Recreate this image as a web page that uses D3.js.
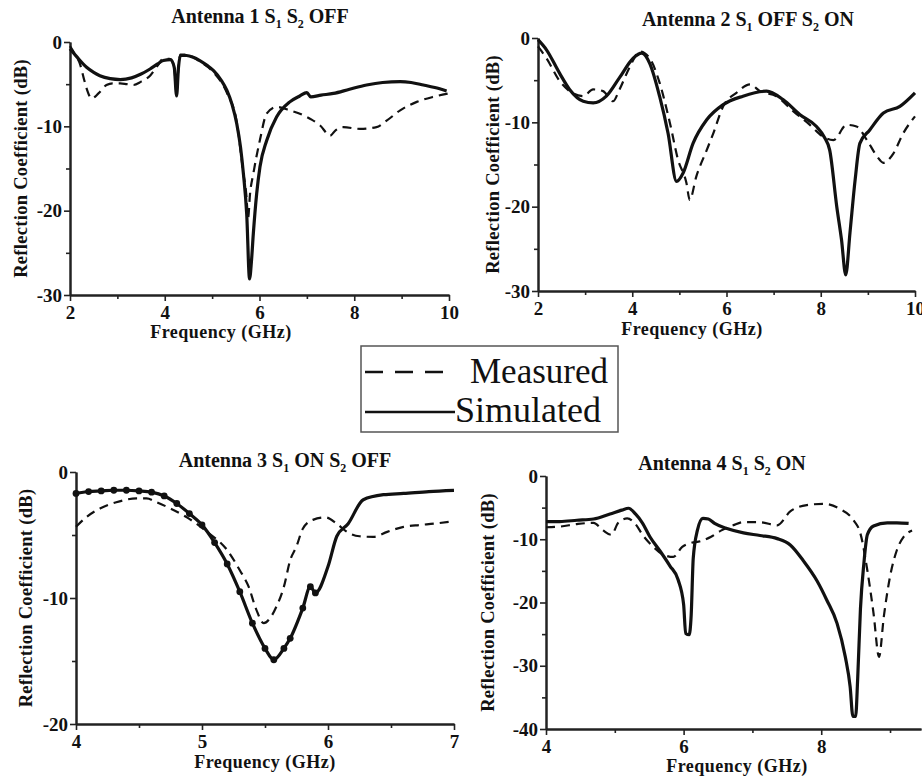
<!DOCTYPE html>
<html><head><meta charset="utf-8">
<script src="https://cdn.jsdelivr.net/npm/d3@7"></script>
<style>
body{margin:0;background:#fff}
svg{display:block}
text{font-family:"Liberation Serif","Times New Roman",serif;}
</style>
</head><body>
<svg id="c" width="922" height="780"></svg>
<script>
// ---------- DATA ----------
const ant1Title = [["Antenna 1 S",0],["1",1],[" S",0],["2",1],[" OFF",0]];
const ant2Title = [["Antenna 2 S",0],["1",1],[" OFF S",0],["2",1],[" ON",0]];
const ant3Title = [["Antenna 3 S",0],["1",1],[" ON S",0],["2",1],[" OFF",0]];
const ant4Title = [["Antenna 4 S",0],["1",1],[" S",0],["2",1],[" ON",0]];

const ant1XTicks = [2,4,6,8,10], ant1XMinor = [3,5,7,9];
const ant1YTicks = [0,-10,-20,-30], ant1YMinor = [-5,-15,-25];
const ant2XTicks = [2,4,6,8,10], ant2XMinor = [3,5,7,9];
const ant2YTicks = [0,-10,-20,-30], ant2YMinor = [-5,-15,-25];
const ant3XTicks = [4,5,6,7], ant3XMinor = [4.5,5.5,6.5];
const ant3YTicks = [0,-10,-20], ant3YMinor = [-5,-15];
const ant4XTicks = [4,6,8], ant4XMinor = [5,7,9];
const ant4YTicks = [0,-10,-20,-30,-40], ant4YMinor = [-5,-15,-25,-35];

const ant1Sim = [[2.0,-0.8],[2.15,-1.8],[2.35,-3.0],[2.5,-3.6],[2.63,-4.0],[2.85,-4.35],[3.06,-4.45],[3.3,-4.25],[3.5,-3.8],[3.69,-3.2],[3.85,-2.6],[3.97,-2.2],[4.12,-2.1],[4.2,-3.0],[4.25,-6.4],[4.29,-3.0],[4.33,-1.6],[4.46,-1.6],[4.6,-1.8],[4.74,-2.2],[4.9,-2.8],[5.03,-3.4],[5.2,-4.6],[5.31,-5.7],[5.42,-7.4],[5.52,-9.7],[5.6,-12.5],[5.66,-15.6],[5.73,-20.4],[5.79,-28.1],[5.83,-26],[5.87,-22.7],[5.94,-18],[6.01,-14.8],[6.15,-11.7],[6.36,-8.9],[6.64,-7.1],[6.85,-6.4],[7.0,-6.0],[7.08,-6.5],[7.3,-6.3],[7.56,-6.1],[7.9,-5.6],[8.26,-5.1],[8.6,-4.8],[8.97,-4.7],[9.2,-4.8],[9.46,-5.1],[9.7,-5.4],[9.95,-5.8]];
const ant1Meas = [[2.0,-0.5],[2.12,-1.6],[2.21,-2.6],[2.3,-4.5],[2.35,-5.5],[2.46,-6.7],[2.6,-6.1],[2.77,-5.1],[2.9,-4.9],[3.06,-4.9],[3.2,-5.0],[3.34,-5.1],[3.5,-4.7],[3.69,-4.0],[3.85,-2.8],[3.97,-2.0],[4.1,-2.0],[4.2,-3.0],[4.25,-6.2],[4.29,-3.0],[4.33,-1.5],[4.46,-1.5],[4.6,-1.8],[4.74,-2.3],[5.03,-3.6],[5.31,-6.0],[5.52,-9.5],[5.66,-15.6],[5.72,-18],[5.76,-20.8],[5.8,-18],[5.87,-15.6],[6.01,-11.6],[6.15,-8.5],[6.36,-7.7],[6.64,-8.1],[6.93,-8.7],[7.1,-9.2],[7.28,-9.9],[7.49,-11.1],[7.6,-10.5],[7.77,-10.1],[8.12,-10.3],[8.47,-10.1],[8.69,-9.3],[8.97,-8.1],[9.32,-7.1],[9.67,-6.5],[9.99,-6.1]];

const ant2Sim = [[2.0,-0.2],[2.18,-1.4],[2.46,-4.2],[2.67,-6.1],[2.96,-7.5],[3.17,-7.7],[3.45,-6.9],[3.73,-4.7],[4.02,-2.4],[4.2,-1.8],[4.37,-3.0],[4.58,-6.9],[4.76,-11.3],[4.94,-17.0],[5.08,-16.0],[5.29,-12.5],[5.58,-9.7],[5.93,-7.9],[6.35,-6.9],[6.85,-6.3],[7.2,-7.3],[7.56,-9.1],[7.91,-10.5],[8.08,-11.8],[8.19,-13.3],[8.34,-20.0],[8.44,-23.9],[8.53,-28.1],[8.62,-23.1],[8.73,-16.8],[8.83,-12.5],[9.04,-10.9],[9.33,-8.9],[9.68,-8.1],[10.0,-6.5]];
const ant2Meas = [[2.0,-1.0],[2.18,-2.4],[2.46,-5.1],[2.67,-6.3],[2.96,-6.9],[3.17,-6.1],[3.38,-6.3],[3.59,-7.5],[3.73,-6.1],[3.95,-3.4],[4.16,-1.6],[4.37,-2.4],[4.58,-5.3],[4.8,-10.1],[4.97,-14.4],[5.15,-17.2],[5.22,-19.2],[5.36,-16.4],[5.58,-13.3],[5.72,-11.3],[5.93,-8.1],[6.21,-6.5],[6.5,-5.5],[6.71,-6.3],[7.06,-6.9],[7.42,-8.7],[7.77,-10.3],[8.05,-11.7],[8.27,-12.1],[8.55,-10.3],[8.76,-10.5],[8.98,-12.1],[9.19,-14.0],[9.33,-14.8],[9.54,-13.7],[9.75,-11.3],[10.0,-9.3]];

const ant3Sim = [[4.0,-1.7],[4.1,-1.55],[4.2,-1.5],[4.3,-1.45],[4.4,-1.45],[4.5,-1.5],[4.6,-1.6],[4.7,-1.9],[4.8,-2.5],[4.9,-3.3],[5.0,-4.2],[5.1,-5.6],[5.2,-7.3],[5.3,-9.5],[5.4,-12.0],[5.5,-14.0],[5.57,-14.9],[5.65,-14.0],[5.7,-13.2],[5.8,-10.8],[5.86,-9.1],[5.9,-9.6],[6.0,-7.5],[6.07,-5.1],[6.16,-4.1],[6.28,-2.2],[6.44,-1.8],[6.6,-1.7],[6.8,-1.55],[7.0,-1.45]];
const ant3Meas = [[4.0,-4.35],[4.08,-3.6],[4.19,-2.9],[4.32,-2.4],[4.48,-2.1],[4.56,-2.1],[4.64,-2.4],[4.75,-2.9],[4.88,-3.6],[5.04,-4.75],[5.2,-6.2],[5.3,-7.8],[5.37,-9.1],[5.43,-10.9],[5.49,-12.0],[5.54,-11.6],[5.59,-10.7],[5.65,-9.1],[5.7,-7.0],[5.75,-5.9],[5.8,-4.5],[5.88,-3.8],[5.98,-3.6],[6.07,-4.1],[6.15,-4.75],[6.25,-5.1],[6.36,-5.15],[6.47,-4.75],[6.6,-4.35],[6.73,-4.2],[6.84,-4.1],[7.0,-3.9]];

const ant4Sim = [[4.0,-7.2],[4.2,-7.2],[4.45,-7.0],[4.69,-6.8],[4.93,-6.0],[5.1,-5.4],[5.2,-5.1],[5.3,-6.0],[5.4,-7.4],[5.51,-9.6],[5.66,-11.9],[5.8,-14.2],[5.92,-16.4],[6.0,-20.3],[6.03,-24.9],[6.08,-25.1],[6.11,-22],[6.14,-13],[6.2,-8.6],[6.28,-6.7],[6.36,-6.8],[6.45,-7.5],[6.63,-8.3],[6.87,-9.0],[7.11,-9.4],[7.36,-9.9],[7.55,-10.9],[7.74,-13.4],[7.94,-16.6],[8.08,-19.6],[8.23,-23.3],[8.35,-28.6],[8.42,-33.3],[8.46,-38],[8.5,-38],[8.53,-32],[8.57,-21],[8.62,-13.8],[8.67,-9.3],[8.76,-7.9],[8.96,-7.4],[9.1,-7.4],[9.27,-7.5]];
const ant4Meas = [[4.0,-8.1],[4.2,-8.0],[4.45,-7.6],[4.69,-7.4],[4.83,-8.6],[4.95,-9.3],[5.05,-7.4],[5.18,-6.7],[5.3,-7.6],[5.41,-9.4],[5.56,-11.2],[5.7,-12.4],[5.85,-12.8],[5.98,-11.2],[6.1,-10.6],[6.25,-10.3],[6.4,-9.6],[6.55,-8.6],[6.72,-7.8],[6.87,-7.3],[7.11,-7.3],[7.36,-7.8],[7.55,-5.6],[7.79,-4.6],[8.03,-4.4],[8.27,-5.2],[8.47,-7.0],[8.57,-9.1],[8.67,-14.9],[8.76,-21.7],[8.84,-28.6],[8.91,-22.2],[9.0,-15.9],[9.1,-11.7],[9.2,-9.6],[9.32,-8.6]];

const legendLabels = ["Measured","Simulated"];
const xLabel = "Frequency (GHz)";
const yLabel = "Reflection Coefficient (dB)";

// ---------- LAYOUT ----------
const panels = [
  {title:ant1Title, sim:ant1Sim, meas:ant1Meas, xd:[2,10], yd:[-30,0], xt:ant1XTicks, xm:ant1XMinor, yt:ant1YTicks, ym:ant1YMinor,
   L:70, R:449, T:42, B:295, titleX:260, titleY:23, xlX:221, xlY:338, ylX:27, dots:false},
  {title:ant2Title, sim:ant2Sim, meas:ant2Meas, xd:[2,10], yd:[-30,0], xt:ant2XTicks, xm:ant2XMinor, yt:ant2YTicks, ym:ant2YMinor,
   L:538, R:915, T:38, B:291, titleX:748, titleY:26, xlX:692, xlY:335, ylX:499, dots:false},
  {title:ant3Title, sim:ant3Sim, meas:ant3Meas, xd:[4,7], yd:[-20,0], xt:ant3XTicks, xm:ant3XMinor, yt:ant3YTicks, ym:ant3YMinor,
   L:76, R:454, T:472, B:724, titleX:285, titleY:467, xlX:265, xlY:768, ylX:32, dots:true},
  {title:ant4Title, sim:ant4Sim, meas:ant4Meas, xd:[4,9.45], yd:[-40,0], xt:ant4XTicks, xm:ant4XMinor, yt:ant4YTicks, ym:ant4YMinor,
   L:546, R:921, T:476, B:729, titleX:722, titleY:470, xlX:737, xlY:772, ylX:494, dots:false}
];

const svg = d3.select("#c");
const INK = "#111";

function styleAxis(g){
  g.select(".domain").attr("stroke", "#222").attr("stroke-width", 2);
  g.selectAll(".tick line").attr("stroke", "#222").attr("stroke-width", 1.6);
  g.selectAll("text").attr("font-family", '"Liberation Serif","Times New Roman",serif')
    .attr("font-size", 19).attr("font-weight", "bold").attr("fill", INK);
}

panels.forEach(p => {
  const x = d3.scaleLinear().domain(p.xd).range([p.L, p.R]);
  const y = d3.scaleLinear().domain(p.yd).range([p.B, p.T]);
  const g = svg.append("g");

  // axes
  g.append("g").attr("transform", `translate(0,${p.B})`)
    .call(d3.axisBottom(x).tickValues(p.xm).tickSize(4).tickSizeOuter(0).tickFormat(""))
    .call(styleAxis);
  g.append("g").attr("transform", `translate(0,${p.B})`)
    .call(d3.axisBottom(x).tickValues(p.xt).tickSize(6).tickSizeOuter(0).tickPadding(5).tickFormat(d => String(d)))
    .call(styleAxis);
  g.append("g").attr("transform", `translate(${p.L},0)`)
    .call(d3.axisLeft(y).tickValues(p.ym).tickSize(4).tickSizeOuter(0).tickFormat(""))
    .call(styleAxis);
  g.append("g").attr("transform", `translate(${p.L},0)`)
    .call(d3.axisLeft(y).tickValues(p.yt).tickSize(6).tickSizeOuter(0).tickPadding(2).tickFormat(d => String(d)))
    .call(styleAxis);

  // curves
  const line = d3.line().x(d => x(d[0])).y(d => y(d[1])).curve(d3.curveMonotoneX);
  g.append("path").datum(p.meas).attr("d", line).attr("fill", "none")
    .attr("stroke", INK).attr("stroke-width", 2.2).attr("stroke-dasharray", "9,6");
  g.append("path").datum(p.sim).attr("d", line).attr("fill", "none")
    .attr("stroke", INK).attr("stroke-width", 3.2).attr("stroke-linejoin", "round");
  if (p.dots) {
    g.selectAll("circle.dot").data(p.sim.filter(d => d[0] <= 5.9)).enter().append("circle")
      .attr("cx", d => x(d[0])).attr("cy", d => y(d[1])).attr("r", 3.4).attr("fill", INK);
  }

  // title with subscripts
  const t = g.append("text").attr("x", p.titleX).attr("y", p.titleY).attr("text-anchor", "middle")
    .attr("font-size", 20).attr("font-weight", "bold").attr("fill", INK);
  p.title.forEach(([s, sub], i) => {
    t.append("tspan").text(s)
      .attr("font-size", sub ? 12 : 20)
      .attr("dy", sub ? 5 : (i > 0 ? -5 : 0));
  });

  // axis labels
  g.append("text").attr("x", p.xlX).attr("y", p.xlY).attr("text-anchor", "middle")
    .attr("font-size", 18).attr("font-weight", "bold").attr("fill", INK).attr("letter-spacing", 0.5).text(xLabel);
  g.append("text").attr("transform", `translate(${p.ylX},${(p.T + p.B) / 2}) rotate(-90)`)
    .attr("text-anchor", "middle").attr("font-size", 18.5).attr("font-weight", "bold").attr("fill", INK)
    .attr("letter-spacing", 0.3).text(yLabel);
});

// legend
const lg = svg.append("g");
lg.append("rect").attr("x", 361).attr("y", 346).attr("width", 257).attr("height", 86)
  .attr("fill", "none").attr("stroke", "#555").attr("stroke-width", 1.5);
lg.append("line").attr("x1", 365).attr("x2", 443).attr("y1", 372).attr("y2", 372)
  .attr("stroke", INK).attr("stroke-width", 2.5).attr("stroke-dasharray", "18,12");
lg.append("line").attr("x1", 365).attr("x2", 455).attr("y1", 412).attr("y2", 412)
  .attr("stroke", INK).attr("stroke-width", 2.5);
lg.append("text").attr("x", 608).attr("y", 383).attr("text-anchor", "end")
  .attr("font-size", 35).attr("fill", INK).text(legendLabels[0]);
lg.append("text").attr("x", 455).attr("y", 422)
  .attr("font-size", 36).attr("fill", INK).text(legendLabels[1]);
</script>
</body></html>
